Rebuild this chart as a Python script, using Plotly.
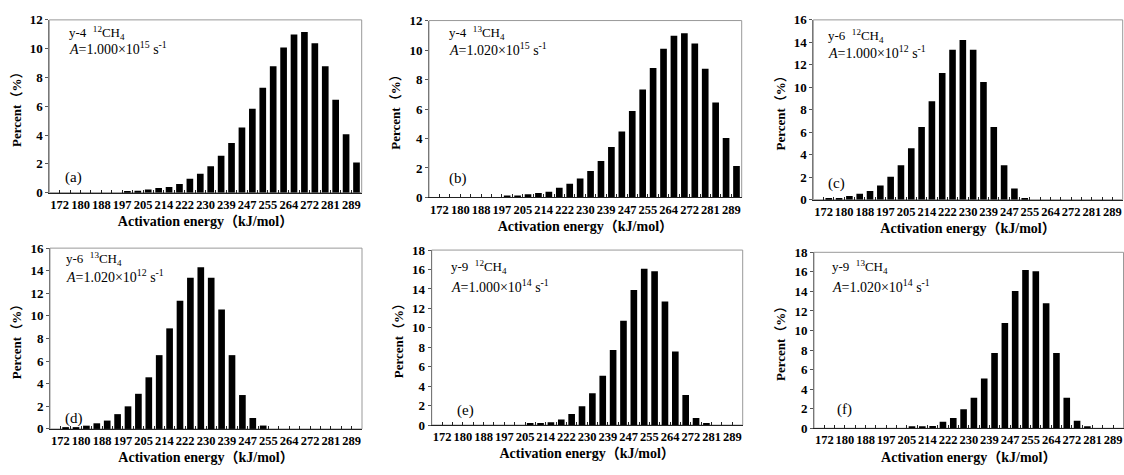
import plotly.graph_objects as go

# ---------------- data ----------------
n_bins = 30
bin_index = list(range(n_bins))
tick_labels = ["172", "180", "188", "197", "205", "214", "222", "230",
               "239", "247", "255", "264", "272", "281", "289"]

pct_a = [0]*7 + [0.12, 0.13, 0.22, 0.32, 0.40, 0.60, 0.96, 1.32, 1.83, 2.57, 3.45, 4.52,
                 5.83, 7.28, 8.78, 10.08, 10.98, 11.15, 10.37, 8.78, 6.45, 4.06, 2.10]
pct_b = [0]*7 + [0.12, 0.13, 0.22, 0.30, 0.39, 0.66, 0.93, 1.28, 1.79, 2.47, 3.43, 4.48,
                 5.86, 7.32, 8.78, 10.08, 10.97, 11.14, 10.44, 8.73, 6.45, 4.04, 2.13]
pct_c = [0] + [0.15, 0.16, 0.32, 0.53, 0.77, 1.26, 2.05, 3.07, 4.57, 6.48, 8.76, 11.28,
               13.35, 14.22, 13.35, 10.47, 6.48, 3.07, 1.00, 0.15] + [0]*9
pct_d = [0] + [0.14, 0.15, 0.29, 0.50, 0.74, 1.31, 2.00, 3.11, 4.57, 6.53, 8.90, 11.34,
               13.38, 14.30, 13.38, 10.57, 6.53, 3.00, 0.97, 0.30] + [0]*9
pct_e = [0]*9 + [0.15, 0.16, 0.30, 0.57, 1.13, 1.93, 3.26, 5.08, 7.73, 10.73, 13.88, 16.08,
                 15.83, 12.70, 7.57, 3.09, 0.73, 0.15] + [0]*3
pct_f = [0]*9 + [0.10, 0.11, 0.23, 0.66, 1.06, 1.95, 3.13, 5.08, 7.69, 10.78, 14.05, 16.20,
                 16.05, 12.78, 7.69, 3.13, 0.76, 0.10] + [0]*3

panels = [
    dict(vals=pct_a, ymax=12, sample="y-4", iso="12", A="1.000", exp="15", tag="(a)"),
    dict(vals=pct_b, ymax=12, sample="y-4", iso="13", A="1.020", exp="15", tag="(b)"),
    dict(vals=pct_c, ymax=16, sample="y-6", iso="12", A="1.000", exp="12", tag="(c)"),
    dict(vals=pct_d, ymax=16, sample="y-6", iso="13", A="1.020", exp="12", tag="(d)"),
    dict(vals=pct_e, ymax=18, sample="y-9", iso="12", A="1.000", exp="14", tag="(e)"),
    dict(vals=pct_f, ymax=18, sample="y-9", iso="13", A="1.020", exp="14", tag="(f)"),
]

# ---------------- layout geometry ----------------
W, H = 1124, 475
boxes = [  # (x0, x1, ytop, ybottom) in pixels
    (49.3, 361.7, 13.3, 191.7),
    (429.0, 741.7, 14.0, 196.7),
    (813.3, 1122.7, 13.3, 199.0),
    (50.0, 362.0, 249.0, 435.7),
    (431.7, 742.7, 251.0, 431.7),
    (814.0, 1123.5, 253.3, 435.0),
]
label_pos = [  # (x of lines, y line1, y line2, x tag, y tag) in domain fractions
    (0.056, 0.925, 0.835, 0.044, 0.085),
    (0.058, 0.930, 0.840, 0.058, 0.105),
    (0.040, 0.912, 0.821, 0.040, 0.090),
    (0.046, 0.941, 0.848, 0.042, 0.060),
    (0.056, 0.906, 0.797, 0.075, 0.085),
    (0.052, 0.917, 0.811, 0.068, 0.105),
]

FONT = "Liberation Serif, Times New Roman, Noto Sans CJK SC, serif"
fig = go.Figure()
annotations = []
shapes = []

tickvals = [0.5 + 2 * i for i in range(len(tick_labels))]

for i, (p, b, lp) in enumerate(zip(panels, boxes, label_pos)):
    n = i + 1
    xa = "x" if n == 1 else f"x{n}"
    ya = "y" if n == 1 else f"y{n}"
    fig.add_trace(go.Bar(x=bin_index, y=p["vals"], marker=dict(color="black", line=dict(width=0)),
                         width=0.64, xaxis=xa, yaxis=ya, showlegend=False))
    x0, x1, yt, yb = b
    xdom = [x0 / W, min(x1 / W, 1.0)]
    ydom = [1 - yb / H, 1 - yt / H]
    xkey = "xaxis" if n == 1 else f"xaxis{n}"
    ykey = "yaxis" if n == 1 else f"yaxis{n}"
    fig.update_layout(**{
        xkey: dict(domain=xdom, anchor=ya, range=[-0.5, n_bins - 0.5],
                   tickmode="array", tickvals=tickvals, ticktext=tick_labels, tickangle=0,
                   ticks="inside", ticklen=3, tickcolor="#222", tickwidth=1,
                   minor=dict(ticks="inside", tickmode="linear", tick0=-0.5, dtick=1,
                              ticklen=3, tickcolor="#222", tickwidth=1, showgrid=False),
                   showline=True, linecolor="#222", linewidth=1.2, mirror=False,
                   showgrid=False, zeroline=False,
                   tickfont=dict(family=FONT, size=12.5, color="black", weight="bold"),
                   title=dict(text="Activation energy（kJ/mol）", standoff=5,
                              font=dict(family=FONT, size=14, color="black", weight="bold"))),
        ykey: dict(domain=ydom, anchor=xa, range=[0, p["ymax"]], dtick=2, tick0=0,
                   ticks="outside", ticklen=3, tickcolor="#555", tickwidth=1,
                   showline=True, linecolor="#777", linewidth=1, mirror=False,
                   showgrid=False, zeroline=False,
                   tickfont=dict(family=FONT, size=13, color="black", weight="bold"),
                   title=dict(text="Percent（%）", standoff=5,
                              font=dict(family=FONT, size=13, color="black", weight="bold"))),
    })
    shapes.append(dict(type="rect", xref=f"{xa} domain", yref=f"{ya} domain",
                       x0=0, x1=1, y0=0, y1=1, line=dict(color="#999", width=1),
                       layer="below"))
    lx, ly1, ly2, tx, ty = lp
    annotations.append(dict(xref=f"{xa} domain", yref=f"{ya} domain", x=lx, y=ly1,
                            xanchor="left", yanchor="middle", showarrow=False,
                            text=f"{p['sample']}  <sup>{p['iso']}</sup>CH<sub>4</sub>",
                            font=dict(family=FONT, size=13, color="black")))
    annotations.append(dict(xref=f"{xa} domain", yref=f"{ya} domain", x=lx, y=ly2,
                            xanchor="left", yanchor="middle", showarrow=False,
                            text=f"<i>A</i>={p['A']}×10<sup>{p['exp']}</sup> s<sup>-1</sup>",
                            font=dict(family=FONT, size=14, color="black")))
    annotations.append(dict(xref=f"{xa} domain", yref=f"{ya} domain", x=tx, y=ty,
                            xanchor="left", yanchor="middle", showarrow=False,
                            text=p["tag"],
                            font=dict(family=FONT, size=15, color="black")))

fig.update_layout(width=W, height=H, margin=dict(l=0, r=0, t=0, b=0),
                  paper_bgcolor="white", plot_bgcolor="white",
                  annotations=annotations, shapes=shapes, bargap=0.3)
fig.write_html("out.html", config={"displayModeBar": False},
               post_script="document.body.style.margin='0';document.body.style.overflow='hidden';")
